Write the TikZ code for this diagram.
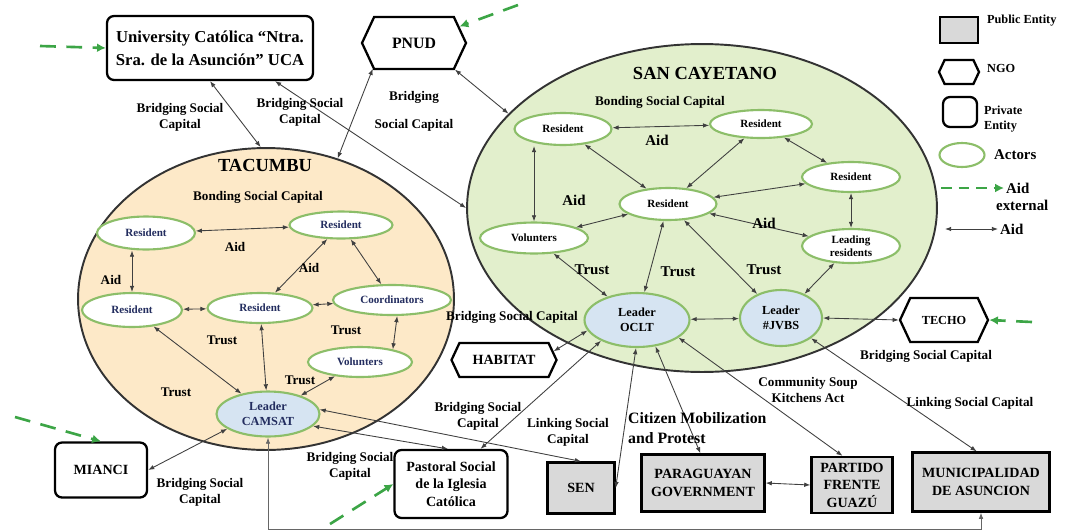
\documentclass[tikz,border=0pt]{standalone}
\usepackage{fontspec}
\setmainfont{Liberation Serif}
\usepackage{tikz}
\usetikzlibrary{shapes.geometric}
\usetikzlibrary{shapes.symbols}
\usetikzlibrary{arrows.meta}
\usepackage{xcolor}

\definecolor{actorgreen}{RGB}{140,190,105}
\definecolor{tacfill}{RGB}{253,233,200}
\definecolor{sanfill}{RGB}{226,239,204}
\definecolor{leadfill}{RGB}{214,228,242}
\definecolor{pubfill}{RGB}{217,217,217}
\definecolor{extgreen}{RGB}{60,165,70}
\definecolor{tactext}{RGB}{35,45,95}

\tikzset{
  region/.style={ellipse, draw=black!80, line width=1.1pt, inner sep=0pt},
  actor/.style={ellipse, draw=actorgreen, line width=1.2pt, fill=white, inner sep=0pt,
    align=center, font=\bfseries\fontsize{6.3}{7.3}\selectfont},
  leader/.style={actor, fill=leadfill, font=\bfseries\fontsize{7}{8.5}\selectfont},
  lbl/.style={inner sep=1pt, align=center, font=\bfseries\fontsize{7.5}{9}\selectfont},
  midlbl/.style={inner sep=1pt, align=center, font=\bfseries\fontsize{8.5}{10}\selectfont},
  title/.style={inner sep=1pt, font=\bfseries\fontsize{10.5}{12}\selectfont},
  boxtxt/.style={align=center, inner sep=2pt, font=\bfseries\fontsize{8}{10}\selectfont},
  private/.style={boxtxt, rectangle, rounded corners=4pt, draw, line width=1.3pt, fill=white},
  public/.style={boxtxt, rectangle, draw, line width=1.3pt, fill=pubfill},
  ngo/.style={boxtxt, signal, signal to=east and west, signal pointer angle=130,
    draw, line width=1.3pt, fill=white},
  lgtxt/.style={inner sep=1pt, align=left, font=\bfseries\fontsize{7}{8.5}\selectfont},
  lgbig/.style={inner sep=1pt, align=left, font=\bfseries\fontsize{8.5}{10}\selectfont},
  aid/.style={{Latex[length=3.5pt,width=2.6pt]}-{Latex[length=3.5pt,width=2.6pt]},
    draw=black!75, line width=0.5pt},
  extaid/.style={-{Latex[length=5pt,width=5pt]}, draw=extgreen, line width=1.5pt,
    dash pattern=on 9pt off 6pt}
}

\begin{document}
\begin{tikzpicture}[x=0.02cm,y=-0.02cm]
  \useasboundingbox (0,0) rectangle (1067,531);

  % the two communities
  \node[region, fill=tacfill, minimum width=7.52cm, minimum height=6.04cm] (tacumbu) at (266,299) {};
  \node[region, fill=sanfill, minimum width=9.4cm, minimum height=6.56cm] (sancay) at (702,208) {};

  \node[title] (tactitle) at (265,165) {TACUMBU};
  \node[lbl] (tacbond) at (258,197) {Bonding Social Capital};
  \node[title] (santitle) at (705,73) {SAN CAYETANO};
  \node[lbl] (sanbond) at (660,102) {Bonding Social Capital};

  % actors of Tacumbu
  \node[actor, text=tactext, minimum width=1.96cm, minimum height=0.66cm] (t1) at (146,233) {Resident};
  \node[actor, text=tactext, minimum width=2.06cm, minimum height=0.54cm] (t2) at (341,225) {Resident};
  \node[actor, text=tactext, minimum width=2.0cm, minimum height=0.68cm] (t3) at (132,310) {Resident};
  \node[actor, text=tactext, minimum width=2.1cm, minimum height=0.6cm] (t4) at (260,308) {Resident};
  \node[actor, text=tactext, minimum width=2.36cm, minimum height=0.6cm] (coord) at (392,300) {Coordinators};
  \node[actor, text=tactext, minimum width=2.08cm, minimum height=0.6cm] (tvol) at (360,362) {Volunters};
  \node[leader, text=tactext, minimum width=2.06cm, minimum height=0.9cm] (camsat) at (268,414) {Leader\\CAMSAT};

  \draw[aid] (t1) -- (t2);
  \draw[aid] (t3.north |- t1.south) -- (t3.north);
  \draw[aid] (t3) -- (t4);
  \draw[aid] (t2) -- (t4);
  \draw[aid] (t2) -- (coord);
  \draw[aid] (coord) -- (t4);
  \draw[aid] (coord.-72) -- (tvol.21);
  \draw[aid] (t3) -- (camsat);
  \draw[aid] (t4) -- (camsat);
  \draw[aid] (tvol) -- (camsat);

  \node[lbl] (taid1) at (235,247) {Aid};
  \node[lbl] (taid2) at (111,280) {Aid};
  \node[lbl] (taid3) at (309,268) {Aid};
  \node[lbl] (ttrust1) at (222,340) {Trust};
  \node[lbl] (ttrust2) at (346,330) {Trust};
  \node[lbl] (ttrust3) at (300,380) {Trust};
  \node[lbl] (ttrust4) at (176,392) {Trust};

  % actors of San Cayetano
  \node[actor, minimum width=1.94cm, minimum height=0.64cm] (s1) at (563,129) {Resident};
  \node[actor, minimum width=2.04cm, minimum height=0.56cm] (s2) at (761,124) {Resident};
  \node[actor, minimum width=1.96cm, minimum height=0.6cm] (s3) at (851,177) {Resident};
  \node[actor, minimum width=1.94cm, minimum height=0.64cm] (s4) at (668,204) {Resident};
  \node[actor, minimum width=2.16cm, minimum height=0.62cm] (svol) at (534,238) {Volunters};
  \node[actor, minimum width=1.96cm, minimum height=0.68cm] (leading) at (851,246) {Leading\\residents};
  \node[leader, minimum width=2.1cm, minimum height=1.08cm] (oclt) at (637,320) {Leader\\OCLT};
  \node[leader, minimum width=1.64cm, minimum height=1.12cm] (jvbs) at (781,318) {Leader\\\#JVBS};

  \draw[aid] (s1) -- (s2);
  \draw[aid] (s1.south -| svol.north) -- (svol.north);
  \draw[aid] (s1) -- (s4);
  \draw[aid] (s2) -- (s4);
  \draw[aid] (s2) -- (s3);
  \draw[aid] (s3) -- (s4);
  \draw[aid] (s3) -- (leading);
  \draw[aid] (s4) -- (svol);
  \draw[aid] (s4) -- (leading);
  \draw[aid] (leading) -- (jvbs);
  \draw[aid] (s4) -- (oclt);
  \draw[aid] (s4) -- (jvbs);
  \draw[aid] (svol) -- (oclt);
  \draw[aid] (oclt) -- (jvbs);

  \node[midlbl] (said1) at (657,140) {Aid};
  \node[midlbl] (said2) at (574,200) {Aid};
  \node[midlbl] (said3) at (764,223) {Aid};
  \node[midlbl] (strust1) at (592,270) {Trust};
  \node[midlbl] (strust2) at (678,272) {Trust};
  \node[midlbl] (strust3) at (764,270) {Trust};

  % outside entities
  \node[private, font=\bfseries\fontsize{9.5}{13}\selectfont, minimum width=4.12cm, minimum height=1.28cm] (uca) at (210,48)
    {University Católica “Ntra.\\Sra. de la Asunción” UCA};
  \node[ngo, font=\bfseries\fontsize{9}{11}\selectfont, minimum width=2.08cm, minimum height=1.04cm] (pnud) at (414,43) {PNUD};
  \node[ngo, minimum width=2.1cm, minimum height=0.68cm] (habitat) at (504,360) {HABITAT};
  \node[ngo, font=\bfseries\fontsize{7}{9}\selectfont, minimum width=1.76cm, minimum height=0.88cm] (techo) at (944,320) {TECHO};
  \node[private, minimum width=1.84cm, minimum height=1.1cm] (mianci) at (101,470) {MIANCI};
  \node[private, minimum width=2.26cm, minimum height=1.36cm] (pastoral) at (451,484) {Pastoral Social\\de la Iglesia\\Católica};
  \node[public, minimum width=1.34cm, minimum height=1.02cm] (sen) at (581,488) {SEN};
  \node[public, minimum width=2.46cm, minimum height=1.14cm] (paraguay) at (703,483) {PARAGUAYAN\\GOVERNMENT};
  \node[public, minimum width=1.62cm, minimum height=1.12cm] (partido) at (852,485) {PARTIDO\\FRENTE\\GUAZÚ};
  \node[public, minimum width=2.74cm, minimum height=1.18cm] (muni) at (981,482) {MUNICIPALIDAD\\DE ASUNCION};

  \draw[aid] (uca.south) -- (tacumbu.92);
  \draw[aid] (uca.-27) -- (sancay.180);
  \draw[aid] (pnud.212) -- (tacumbu.63);
  \draw[aid] (pnud.-33) -- (sancay.154);
  \draw[aid] (mianci.east) -- (camsat.200);
  \draw[aid] (camsat.-15) -- (pastoral.95);
  \draw[aid] (camsat.5) -- (sen.north);
  \draw[aid] (pastoral.50) -- (oclt.210);
  \draw[aid] (habitat.10) -- (oclt.192);
  \draw[aid] (sen.east) -- (oclt.-92);
  \draw[aid] (oclt.-55) -- (paraguay.95);
  \draw[aid] (oclt.-23) -- (partido.108);
  \draw[aid] (jvbs.-34) -- (muni.98);
  \draw[aid] (jvbs.east) -- (techo.west);
  \draw[aid] (paraguay.east) -- (partido.west);
  \draw[aid, draw=black!60] (camsat.south) -- ++(0,92) -| (muni.south);

  \node[lbl] (lucatac) at (180,117) {Bridging Social\\Capital};
  \node[lbl] (lucasan) at (300,112) {Bridging Social\\Capital};
  \node[lbl] (lpnud) at (414,111) {Bridging\\[7pt]Social Capital};
  \node[lbl] (lmianci) at (200,492) {Bridging Social\\Capital};
  \node[lbl] (lpastoral) at (350,466) {Bridging Social\\Capital};
  \node[lbl] (lpastoclt) at (478,416) {Bridging Social\\Capital};
  \node[lbl] (lhabitat) at (512,317) {Bridging Social Capital};
  \node[lbl] (lsen) at (568,432) {Linking Social\\Capital};
  \node[lbl, align=left, anchor=west, font=\bfseries\fontsize{9}{11}\selectfont] (lcitizen) at (626,428) {Citizen Mobilization\\and Protest};
  \node[lbl] (lsoup) at (808,390) {Community Soup\\Kitchens Act};
  \node[lbl] (ltecho) at (926,356) {Bridging Social Capital};
  \node[lbl] (lmuni) at (970,403) {Linking Social Capital};

  % aid coming from outside
  \coordinate (ucaext) at (40,46);
  \coordinate (pnudext) at (518,5);
  \coordinate (techoext) at (1032,322);
  \coordinate (mianciext) at (15,417);
  \coordinate (pastext) at (330,524);
  \draw[extaid] (ucaext) -- (uca.west);
  \draw[extaid] (pnudext) -- (pnud.20);
  \draw[extaid] (techoext) -- (techo.east);
  \draw[extaid] (mianciext) -- (mianci.north);
  \draw[extaid] (pastext) -- (pastoral.west);

  % legend
  \node[public, minimum width=0.76cm, minimum height=0.52cm] (legpub) at (959,30) {};
  \node[lgtxt, anchor=west] (legpubtxt) at (985,21) {Public Entity};
  \node[ngo, minimum width=0.8cm, minimum height=0.48cm] (legngo) at (959,72) {};
  \node[lgtxt, anchor=west] (legngotxt) at (985,68) {NGO};
  \node[private, minimum width=0.68cm, minimum height=0.6cm] (legpriv) at (960,112) {};
  \node[lgtxt, anchor=west] (legprivtxt) at (982,119) {Private\\Entity};
  \node[actor, minimum width=0.9cm, minimum height=0.48cm] (legact) at (962,155) {};
  \node[lgbig, anchor=west] (legacttxt) at (992,155) {Actors};
  \coordinate (legext) at (941,188);
  \node[lgbig, anchor=west] (legexttxt) at (1004,188) {Aid};
  \node[lgbig, anchor=west] (legexttxt2) at (994,205) {external};
  \draw[extaid, dash pattern=on 6pt off 4pt] (legext) -- (legexttxt.west);
  \coordinate (legaid) at (945,229);
  \node[lgbig, anchor=west] (legaidtxt) at (998,229) {Aid};
  \draw[aid] (legaid) -- (legaidtxt.west);
\end{tikzpicture}
\end{document}
